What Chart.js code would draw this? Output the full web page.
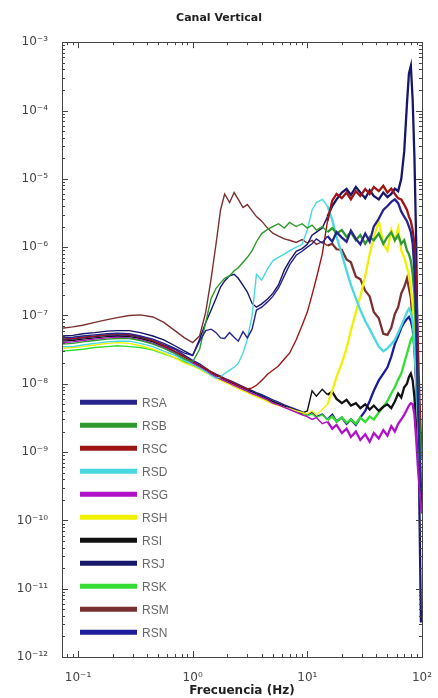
<!DOCTYPE html>
<html><head><meta charset="utf-8">
<style>html,body{margin:0;padding:0;background:#fff}#wrap{width:438px;height:698px}</style>
<script src="https://cdn.jsdelivr.net/npm/chart.js@4/dist/chart.umd.min.js"></script>
</head><body><div id="wrap"><canvas id="c" width="438" height="698"></canvas></div>
<script>
const freq = [0.072,0.09,0.11,0.14,0.18,0.22,0.28,0.35,0.45,0.56,0.7,0.85,
 1.0,1.15,1.3,1.45,1.6,1.75,1.9,2.1,2.3,2.5,2.75,3.0,3.3,3.6,4.0,4.5,5.0,5.6,6.3,7.0,8.0,9.0,
 10,11,12,13.5,15,16.5,18,20,22,24,26.5,29,32,35,38,42,46,50,54,58,62,66,70,74,77,80,83,86,89,92,95,98,100];

const RSA = [4.7e-8,4.8e-8,5.0e-8,5.2e-8,5.4e-8,5.5e-8,5.4e-8,5.0e-8,4.5e-8,3.9e-8,3.3e-8,2.8e-8,
 2.6e-8,4.2e-8,6.0e-8,6.3e-8,5.6e-8,4.7e-8,4.6e-8,5.6e-8,4.8e-8,4.2e-8,5.8e-8,4.7e-8,6.3e-8,1.2e-7,1.32e-7,1.58e-7,1.9e-7,2.5e-7,3.8e-7,5.5e-7,7.6e-7,8.7e-7,
 1.0e-6,1.12e-6,1.32e-6,1.15e-6,1.45e-6,1.2e-6,1.66e-6,1.38e-6,1.2e-6,1.74e-6,1.32e-6,1.1e-6,1.58e-6,1.2e-6,2.0e-6,2.6e-6,3.5e-6,4.0e-6,4.6e-6,5.0e-6,4.4e-6,3.3e-6,2.8e-6,2.4e-6,2.0e-6,1.66e-6,1.12e-6,4.5e-7,1e-7,6.3e-9,1e-9,3.2e-10,2.5e-10];
const RSB = [3.8e-8,3.9e-8,4.1e-8,4.3e-8,4.5e-8,4.6e-8,4.6e-8,4.3e-8,3.8e-8,3.3e-8,2.75e-8,2.3e-8,
 2.1e-8,3.2e-8,7.9e-8,1.78e-7,2.5e-7,3.0e-7,3.5e-7,3.8e-7,4.5e-7,5.0e-7,6.0e-7,7.1e-7,8.9e-7,1.2e-6,1.58e-6,1.82e-6,2.0e-6,2.2e-6,1.9e-6,2.3e-6,2.0e-6,2.2e-6,
 1.9e-6,2.1e-6,1.78e-6,2.0e-6,1.66e-6,1.9e-6,1.58e-6,1.78e-6,1.41e-6,1.66e-6,1.26e-6,1.5e-6,1.12e-6,1.41e-6,1.26e-6,1.58e-6,1.12e-6,1.41e-6,1.66e-6,1.26e-6,1.5e-6,1.12e-6,1.26e-6,8.9e-7,7.9e-7,6.3e-7,4.0e-7,2.0e-7,5.0e-8,1.0e-8,2.5e-9,1.0e-9,7.9e-10];
const RSC = [4.5e-8,4.6e-8,4.8e-8,5.0e-8,5.2e-8,5.4e-8,5.2e-8,4.9e-8,4.3e-8,3.6e-8,3.0e-8,2.5e-8,
 2.1e-8,1.86e-8,1.66e-8,1.48e-8,1.35e-8,1.26e-8,1.17e-8,1.1e-8,1.02e-8,9.5e-9,8.9e-9,8.3e-9,8.7e-9,9.5e-9,1.12e-8,1.38e-8,1.58e-8,1.82e-8,2.3e-8,2.8e-8,4.4e-8,7.1e-8,
 1.12e-7,2.0e-7,3.5e-7,7.9e-7,2.4e-6,4.8e-6,6.0e-6,5.2e-6,6.3e-6,5.0e-6,6.6e-6,5.6e-6,7.1e-6,6.0e-6,7.6e-6,6.6e-6,7.9e-6,6.3e-6,7.2e-6,6.0e-6,5.2e-6,5.0e-6,4.2e-6,3.5e-6,2.8e-6,2.4e-6,1.78e-6,1.12e-6,3.2e-7,4.0e-8,6.3e-9,1.58e-9,1.0e-9];
const RSD = [3.5e-8,3.5e-8,3.7e-8,3.9e-8,4.1e-8,4.2e-8,4.2e-8,3.9e-8,3.5e-8,3.0e-8,2.6e-8,2.2e-8,
 1.9e-8,1.7e-8,1.5e-8,1.32e-8,1.2e-8,1.26e-8,1.41e-8,1.58e-8,1.74e-8,2.0e-8,2.8e-8,4.5e-8,1.0e-7,4.0e-7,3.3e-7,4.8e-7,6.3e-7,7.1e-7,7.9e-7,8.9e-7,1.0e-6,1.1e-6,
 1.78e-6,3.5e-6,4.5e-6,5.0e-6,4.0e-6,2.5e-6,1.41e-6,7.9e-7,4.5e-7,2.8e-7,1.78e-7,1.2e-7,8.3e-8,6.3e-8,4.8e-8,3.5e-8,3.0e-8,3.3e-8,3.8e-8,4.4e-8,5.6e-8,7.1e-8,8.9e-8,1.12e-7,1.26e-7,1.12e-7,7.9e-8,4.0e-8,1.26e-8,3.2e-9,1.0e-9,4.0e-10,3.2e-10];
const RSG = [4.0e-8,4.1e-8,4.3e-8,4.5e-8,4.7e-8,4.8e-8,4.7e-8,4.4e-8,3.9e-8,3.4e-8,2.8e-8,2.3e-8,
 2.0e-8,1.74e-8,1.55e-8,1.38e-8,1.26e-8,1.17e-8,1.1e-8,1.02e-8,9.5e-9,8.9e-9,8.3e-9,7.8e-9,7.2e-9,6.8e-9,6.3e-9,5.8e-9,5.2e-9,4.9e-9,4.5e-9,4.2e-9,3.8e-9,3.5e-9,
 3.3e-9,3.0e-9,3.2e-9,2.6e-9,2.8e-9,2.2e-9,2.5e-9,1.9e-9,2.2e-9,1.66e-9,2.0e-9,1.5e-9,1.82e-9,1.41e-9,1.9e-9,1.58e-9,2.1e-9,1.74e-9,2.4e-9,2.0e-9,2.6e-9,3.0e-9,3.5e-9,4.2e-9,4.8e-9,5.2e-9,5.0e-9,3.5e-9,1.58e-9,6.3e-10,3.2e-10,1.6e-10,1.26e-10];
const RSH = [3.3e-8,3.4e-8,3.5e-8,3.7e-8,3.9e-8,4.0e-8,3.9e-8,3.6e-8,3.2e-8,2.8e-8,2.4e-8,2.0e-8,
 1.82e-8,1.62e-8,1.45e-8,1.32e-8,1.2e-8,1.12e-8,1.05e-8,9.8e-9,9.1e-9,8.5e-9,7.9e-9,7.4e-9,6.9e-9,6.5e-9,6.0e-9,5.5e-9,5.1e-9,4.8e-9,4.5e-9,4.3e-9,4.0e-9,3.8e-9,
 3.6e-9,4.0e-9,3.5e-9,4.2e-9,5.0e-9,7.9e-9,1.26e-8,2.0e-8,3.3e-8,6.0e-8,1.12e-7,1.9e-7,3.8e-7,7.9e-7,1.41e-6,2.4e-6,1.12e-6,8.9e-7,1.78e-6,1.26e-6,1.9e-6,8.9e-7,7.1e-7,5.0e-7,4.0e-7,2.5e-7,1.41e-7,6.3e-8,1.58e-8,4.0e-9,1.0e-9,5.0e-10,4.0e-10];
const RSI = [4.2e-8,4.3e-8,4.5e-8,4.7e-8,4.9e-8,5.0e-8,4.9e-8,4.6e-8,4.1e-8,3.5e-8,2.95e-8,2.45e-8,
 2.1e-8,1.82e-8,1.62e-8,1.45e-8,1.32e-8,1.23e-8,1.15e-8,1.07e-8,1.0e-8,9.3e-9,8.7e-9,8.1e-9,7.6e-9,7.1e-9,6.6e-9,6.0e-9,5.5e-9,5.1e-9,4.7e-9,4.4e-9,4.0e-9,3.7e-9,
 4.0e-9,7.9e-9,6.6e-9,8.3e-9,6.9e-9,7.6e-9,6.0e-9,5.2e-9,5.8e-9,4.8e-9,5.2e-9,4.4e-9,5.0e-9,4.2e-9,4.8e-9,4.0e-9,4.6e-9,5.0e-9,4.4e-9,5.5e-9,7.2e-9,6.3e-9,8.9e-9,1.0e-8,1.26e-8,1.41e-8,1.12e-8,6.3e-9,2.5e-9,1.0e-9,4.0e-10,2.5e-10,2.0e-10];
const RSJ = [5.0e-8,5.1e-8,5.4e-8,5.6e-8,5.9e-8,6.0e-8,6.0e-8,5.6e-8,5.0e-8,4.4e-8,3.6e-8,3.0e-8,
 2.6e-8,4.5e-8,7.9e-8,1.2e-7,1.78e-7,2.6e-7,3.2e-7,3.8e-7,4.0e-7,3.5e-7,2.75e-7,2.2e-7,1.5e-7,1.32e-7,1.48e-7,1.74e-7,2.1e-7,2.8e-7,4.6e-7,6.3e-7,8.7e-7,9.5e-7,
 1.1e-6,1.5e-6,1.66e-6,1.9e-6,2.8e-6,4.0e-6,5.0e-6,6.3e-6,7.1e-6,5.8e-6,7.6e-6,6.3e-6,5.2e-6,6.8e-6,5.6e-6,5.0e-6,6.3e-6,5.4e-6,6.0e-6,7.2e-6,6.6e-6,1.0e-5,2.5e-5,1.26e-4,3.5e-4,4.5e-4,1.4e-4,2.0e-5,1.26e-6,1.6e-8,1.6e-10,3.2e-12,5.0e-12];
const RSK = [3.0e-8,3.1e-8,3.2e-8,3.4e-8,3.5e-8,3.6e-8,3.5e-8,3.4e-8,3.1e-8,2.75e-8,2.4e-8,2.1e-8,
 1.86e-8,1.66e-8,1.48e-8,1.35e-8,1.23e-8,1.15e-8,1.07e-8,1.0e-8,9.3e-9,8.7e-9,8.1e-9,7.6e-9,7.1e-9,6.6e-9,6.2e-9,5.6e-9,5.2e-9,4.9e-9,4.6e-9,4.3e-9,3.9e-9,3.6e-9,
 3.4e-9,3.6e-9,3.2e-9,3.5e-9,2.95e-9,3.3e-9,2.8e-9,3.2e-9,2.7e-9,3.0e-9,2.6e-9,3.2e-9,2.75e-9,3.3e-9,3.0e-9,3.8e-9,4.6e-9,5.6e-9,7.2e-9,8.9e-9,1.15e-8,1.41e-8,2.0e-8,2.75e-8,3.5e-8,4.4e-8,5.0e-8,3.5e-8,1.41e-8,4.0e-9,1.0e-9,4.0e-10,3.2e-10];
const RSM = [6.5e-8,6.8e-8,7.2e-8,7.9e-8,8.7e-8,9.3e-8,1.0e-7,1.02e-7,9.5e-8,7.9e-8,6.0e-8,4.7e-8,
 4.0e-8,5.0e-8,1.12e-7,3.5e-7,1.12e-6,3.5e-6,6.0e-6,4.5e-6,6.3e-6,5.0e-6,3.8e-6,4.2e-6,3.4e-6,2.8e-6,2.4e-6,1.9e-6,1.6e-6,1.45e-6,1.32e-6,1.26e-6,1.17e-6,1.29e-6,
 1.15e-6,1.26e-6,1.1e-6,1.2e-6,1.05e-6,1.12e-6,9.3e-7,9.1e-7,6.6e-7,6.0e-7,3.7e-7,3.4e-7,2.3e-7,1.9e-7,1.12e-7,9.1e-8,5.4e-8,5.2e-8,6.6e-8,1.05e-7,1.32e-7,2.1e-7,2.6e-7,3.5e-7,2.5e-7,1.8e-7,7.9e-8,4.0e-8,1.26e-8,3.2e-9,1e-9,5e-10,4e-10];
const RSN = [4.4e-8,4.5e-8,4.7e-8,4.9e-8,5.1e-8,5.2e-8,5.1e-8,4.8e-8,4.3e-8,3.7e-8,3.2e-8,2.6e-8,
 2.2e-8,1.95e-8,1.7e-8,1.5e-8,1.38e-8,1.29e-8,1.2e-8,1.12e-8,1.05e-8,9.8e-9,9.1e-9,8.5e-9,7.9e-9,7.4e-9,6.9e-9,6.3e-9,5.8e-9,5.4e-9,4.9e-9,4.6e-9,4.2e-9,3.9e-9,
 3.5e-9,3.8e-9,3.3e-9,3.6e-9,3.0e-9,3.5e-9,2.8e-9,3.2e-9,2.6e-9,3.0e-9,2.5e-9,3.2e-9,4.0e-9,5.6e-9,7.9e-9,1.12e-8,1.41e-8,1.74e-8,2.5e-8,3.8e-8,5.0e-8,6.6e-8,7.9e-8,8.9e-8,9.5e-8,8.3e-8,6.3e-8,3.2e-8,1.0e-8,2.5e-9,6.3e-10,2.5e-10,1.6e-10];

const seriesNames = ['RSA','RSB','RSC','RSD','RSG','RSH','RSI','RSJ','RSK','RSM','RSN'];
const seriesValues = [RSA,RSB,RSC,RSD,RSG,RSH,RSI,RSJ,RSK,RSM,RSN];
const seriesColors = ['#24248a','#2e9a2e','#a01414','#48d8e0','#b010c8','#f0f000','#111111','#16166a','#33dd33','#7a3030','#1c1c9c'];

const xTickLabels = ['10\u207B\u00B9','10\u2070','10\u00B9','10\u00B2'];
const yTickLabels = ['10\u207B\u00B3','10\u207B\u2074','10\u207B\u2075','10\u207B\u2076','10\u207B\u2077','10\u207B\u2078','10\u207B\u2079','10\u207B\u00B9\u2070','10\u207B\u00B9\u00B9','10\u207B\u00B9\u00B2'];
const xDecades = [-1,0,1,2];
const yDecades = [-3,-4,-5,-6,-7,-8,-9,-10,-11,-12];

function logTicks(minExp, maxExp, lo, hi){
  const out=[];
  for(let e=minExp;e<=maxExp;e++){for(let k=1;k<10;k++){const v=k*Math.pow(10,e); if(v>=lo*0.999 && v<=hi*1.001) out.push({value:v});}}
  return out;
}
function labelFor(v, decs, labels){
  const l=Math.log10(v); const r=Math.round(l);
  if(Math.abs(l-r)>1e-6) return '';
  const i=decs.indexOf(r); return i>=0?labels[i]:'';
}

const framePlugin = {
  id:'frame',
  afterDraw(chart){
    const ctx=chart.ctx, a=chart.chartArea, xs=chart.scales.x, ys=chart.scales.y;
    ctx.save();
    ctx.strokeStyle='#444'; ctx.lineWidth=1;
    ctx.strokeRect(Math.round(a.left)+0.5, Math.round(a.top)+0.5, Math.round(a.right-a.left), Math.round(a.bottom-a.top));
    ctx.beginPath();
    xs.ticks.forEach(t=>{
      const major = labelFor(t.value,xDecades,xTickLabels)!=='';
      const L = major?6:3; const px=Math.round(xs.getPixelForValue(t.value))+0.5;
      if(px<a.left||px>a.right) return;
      ctx.moveTo(px,a.bottom); ctx.lineTo(px,a.bottom-L);
      ctx.moveTo(px,a.top); ctx.lineTo(px,a.top+L);
    });
    ys.ticks.forEach(t=>{
      const major = labelFor(t.value,yDecades,yTickLabels)!=='';
      const L = major?6:3; const py=Math.round(ys.getPixelForValue(t.value))+0.5;
      if(py<a.top||py>a.bottom) return;
      ctx.moveTo(a.left,py); ctx.lineTo(a.left+L,py);
      ctx.moveTo(a.right,py); ctx.lineTo(a.right-L,py);
    });
    ctx.stroke();
    ctx.restore();
  },
  afterDatasetsDraw(chart){
    const ctx=chart.ctx, a=chart.chartArea;
    ctx.save();
    ctx.font='12px "Liberation Sans", Arial, sans-serif';
    ctx.textBaseline='middle';
    chart.data.datasets.forEach((ds,i)=>{
      const y = a.top + 360 + i*23;
      ctx.strokeStyle=ds.borderColor; ctx.lineWidth=5; ctx.lineCap='butt';
      ctx.beginPath(); ctx.moveTo(a.left+18,y); ctx.lineTo(a.left+75,y); ctx.stroke();
      ctx.fillStyle='#666'; ctx.fillText(ds.label, a.left+80, y+1);
    });
    ctx.restore();
  }
};

new Chart(document.getElementById('c'), {
  type:'line',
  data:{
    datasets: seriesNames.map((n,i)=>({
      label:n,
      data: freq.map((f,j)=>({x:f,y:seriesValues[i][j]})),
      borderColor:seriesColors[i], backgroundColor:seriesColors[i],
      borderWidth: 1.4, pointRadius:0, tension:0, fill:false,
      segment:{ borderWidth: c => (c.p0.parsed.x >= 14 ? 2.3 : 1.4) }
    }))
  },
  options:{
    responsive:false, animation:false, devicePixelRatio:1,
    events:[],
    layout:{padding:{left:14,right:14,top:0,bottom:0}},
    plugins:{
      legend:{display:false}, tooltip:{enabled:false},
      title:{display:true,text:'Canal Vertical',color:'#222',
        font:{size:11,weight:'bold',family:'"DejaVu Sans", sans-serif'},
        padding:{top:12,bottom:17}}
    },
    scales:{
      x:{type:'logarithmic',min:0.0725,max:100,
        grid:{display:false}, border:{display:false},
        afterBuildTicks(s){ s.ticks = logTicks(-2,2,0.0725,100); },
        afterFit(s){ s.height=41; },
        ticks:{autoSkip:false,maxRotation:0,padding:6,color:'#444',
          font:{size:12,family:'"DejaVu Sans", sans-serif'},
          callback:(v)=>labelFor(v,xDecades,xTickLabels)},
        title:{display:true,text:'Frecuencia (Hz)',color:'#222',
          font:{size:12,weight:'bold',family:'"DejaVu Sans", sans-serif'},
          padding:{top:0,bottom:0}}
      },
      y:{type:'logarithmic',min:1e-12,max:1e-3,
        grid:{display:false}, border:{display:false},
        afterBuildTicks(s){ s.ticks = logTicks(-12,-3,1e-12,1e-3); },
        afterFit(s){ s.width=48; },
        ticks:{autoSkip:false,padding:6,color:'#444',
          font:{size:12,family:'"DejaVu Sans", sans-serif'},
          callback:(v)=>labelFor(v,yDecades,yTickLabels)}
      }
    }
  },
  plugins:[framePlugin]
});
</script></body></html>
